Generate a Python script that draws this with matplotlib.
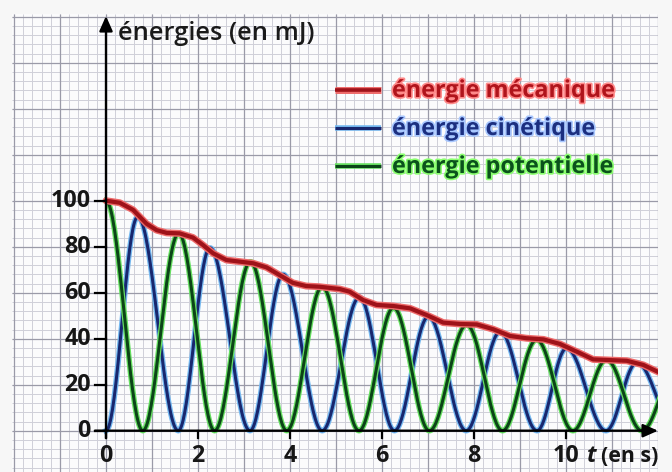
import numpy as np
import matplotlib
matplotlib.use("Agg")
import matplotlib.pyplot as plt
import matplotlib.patheffects as pe

plt.rcParams['font.family'] = ['Open Sans', 'DejaVu Sans']

# ---- data ----
# potential energy (green): extrema (time s, energy mJ)
ep_t = [0.00, 0.80, 1.58, 2.36, 3.14, 3.93, 4.70, 5.50, 6.25, 7.03, 7.84, 8.62, 9.36, 10.15, 10.88, 11.65, 12.42]
ep_v = [100.0, 0.0, 85.8, 0.0, 73.5, 0.0, 62.6, 0.0, 53.5, 0.0, 46.0, 0.0, 39.5, 0.0, 30.8, 0.0, 28.0]
# kinetic energy (blue): extrema
ec_t = [0.00, 0.69, 1.57, 2.26, 3.13, 3.85, 4.70, 5.51, 6.27, 7.01, 7.83, 8.57, 9.37, 10.01, 10.87, 11.54, 12.40]
ec_v = [0.0, 93.0, 0.0, 79.5, 0.0, 68.0, 0.0, 58.0, 0.0, 49.6, 0.0, 43.0, 0.0, 35.8, 0.0, 29.6, 0.0]
# mechanical energy (red)
em_t = [0.00, 0.30, 0.59, 0.88, 1.10, 1.32, 1.60, 1.89, 2.11, 2.33, 2.62, 2.91, 3.20, 3.49, 3.77,
        4.06, 4.35, 4.64, 5.08, 5.30, 5.59, 5.88, 6.25, 6.61, 6.97, 7.33, 7.70, 8.06, 8.42, 8.78,
        9.14, 9.51, 9.87, 10.23, 10.59, 10.96, 11.32, 11.68, 12.04]
em_v = [100.0, 99.1, 96.0, 90.0, 87.2, 86.0, 85.8, 84.0, 80.7, 77.1, 74.2, 73.5, 72.8, 71.0, 67.7,
        64.3, 62.9, 62.6, 61.6, 60.4, 56.8, 54.7, 54.2, 53.2, 50.3, 47.0, 46.4, 46.2, 44.1, 41.2,
        40.2, 39.7, 37.7, 34.4, 31.0, 30.7, 30.4, 28.6, 25.2]

x_ticks = [0, 2, 4, 6, 8, 10]
y_ticks = [0, 20, 40, 60, 80, 100]
labels = ["énergie mécanique", "énergie cinétique", "énergie potentielle"]
y_title = "énergies (en mJ)"


def eased(ts, vs, n=40):
    xs, ys = [], []
    for i in range(len(ts) - 1):
        s = np.linspace(0, 1, n)
        xs.append(ts[i] + (ts[i + 1] - ts[i]) * s)
        ys.append(vs[i] + (vs[i + 1] - vs[i]) * (1 - np.cos(np.pi * s)) / 2)
    return np.concatenate(xs), np.concatenate(ys)


W, H = 672, 472
fig = plt.figure(figsize=(W / 100, H / 100), dpi=100, facecolor='#f7f7f7')
L, R, T, B = 12, 658, 14, 472
ax = fig.add_axes([L / W, 1 - B / H, (R - L) / W, (B - T) / H])
ax.set_facecolor('#fbfbfc')

px_per_s = 46.0
px_per_mJ = 2.3
x0_px, y0_px = 106.0, 430.7


def dx(px):
    return (px - x0_px) / px_per_s


def dy(py):
    return (y0_px - py) / px_per_mJ


ax.set_xlim(dx(L), dx(R))
ax.set_ylim(dy(B), dy(T))
for s in ax.spines.values():
    s.set_visible(False)
ax.set_xticks([])
ax.set_yticks([])

# graph paper
xmin, xmax = ax.get_xlim()
ymin, ymax = ax.get_ylim()
ax.vlines(np.arange(-2.0, 12.01, 0.2), ymin, ymax, colors='#cfcfd8', lw=0.7, zorder=0)
ax.hlines(np.arange(-16, 181, 4), xmin, xmax, colors='#cfcfd8', lw=0.7, zorder=0)
ax.vlines(np.arange(-2, 13, 1), ymin, ymax, colors='#9a9aa8', lw=0.9, zorder=0.5)
ax.hlines(np.arange(-0, 181, 20), xmin, xmax, colors='#9a9aa8', lw=0.9, zorder=0.5)

# curves
gx, gy = eased(ep_t, ep_v)
bx, by = eased(ec_t, ec_v)
eff_b = [pe.Stroke(linewidth=4.0, foreground='#74b8f0'), pe.Normal()]
eff_g = [pe.Stroke(linewidth=4.0, foreground='#66e060'), pe.Normal()]
eff_r = [pe.Stroke(linewidth=5.0, foreground='#ee6a6a'), pe.Normal()]
ax.plot(bx, by, color='#18276e', lw=2.2, zorder=3, path_effects=eff_b)
ax.plot(gx, gy, color='#0c4418', lw=2.2, zorder=3.2, path_effects=eff_g)
ax.plot(em_t, em_v, color='#9e1219', lw=3.0, zorder=4, solid_capstyle='round', path_effects=eff_r)

# axes with arrows
arrow = dict(arrowstyle='-|>,head_length=0.9,head_width=0.4', lw=1.7, color='black',
             shrinkA=0, shrinkB=0)
ax.annotate('', xy=(0, dy(16)), xytext=(0, -3.2),
            arrowprops=arrow, annotation_clip=False, zorder=6)
ax.annotate('', xy=(xmax, 0), xytext=(-0.24, 0), arrowprops=arrow,
            annotation_clip=False, zorder=6)

fig.canvas.draw()
renderer = fig.canvas.get_renderer()


def fit(txt, target_w):
    w = txt.get_window_extent(renderer).width
    txt.set_fontsize(txt.get_fontsize() * target_w / w)


tick_font = dict(fontsize=15, fontweight='bold', color='#161616')
ytl = []
for yt in y_ticks:
    ax.plot([-0.24, 0], [yt, yt], color='black', lw=1.6, zorder=6)
    ytl.append(ax.text(dx(91), yt, str(yt), ha='right', va='center', **tick_font))
fit(ytl[-1], 40)
tsize = ytl[-1].get_fontsize()
for t in ytl:
    t.set_fontsize(tsize)
for xt in x_ticks:
    ax.plot([xt, xt], [0, -3.2], color='black', lw=1.6, zorder=6)
    ax.text(xt, dy(456.5), str(xt), ha='center', va='center', **{**tick_font, 'fontsize': tsize})

ax.text(dx(587), dy(456.5), 't', ha='left', va='center', fontstyle='italic',
        **{**tick_font, 'fontsize': tsize})
unit = ax.text(dx(601), dy(456.5), '(en s)', ha='left', va='center', **{**tick_font, 'fontsize': tsize})
fit(unit, 57)

title = ax.text(dx(118), dy(33), y_title, ha='left', va='center', fontsize=15,
                fontweight='semibold', color='#1a1a1a')
fit(title, 197)

# legend (manual)
line_cols = ['#9e1219', '#18276e', '#0c4418']
line_effs = [eff_r, eff_b, eff_g]
text_cols = ['#b0141c', '#1c2f80', '#0b521c']
glow_cols = ['#ff8a8a', '#a9c8ff', '#8cff70']
rows_py = [90, 128, 166]
ltexts = []
for lab, lc, le, tc, gc, py in zip(labels, line_cols, line_effs, text_cols, glow_cols, rows_py):
    ax.plot([dx(335), dx(381)], [dy(py), dy(py)], color=lc, lw=2.6 if lc == line_cols[0] else 2.2,
            path_effects=le, zorder=5, solid_capstyle='butt')
    t = ax.text(dx(392), dy(py + 1), lab, ha='left', va='center', fontsize=15,
                fontweight='bold', color=tc, zorder=5,
                path_effects=[pe.Stroke(linewidth=2.4, foreground=gc), pe.Normal()])
    ltexts.append(t)
fit(ltexts[0], 223)
for t in ltexts[1:]:
    t.set_fontsize(ltexts[0].get_fontsize())

fig.savefig('out.png', dpi=100, facecolor=fig.get_facecolor())
